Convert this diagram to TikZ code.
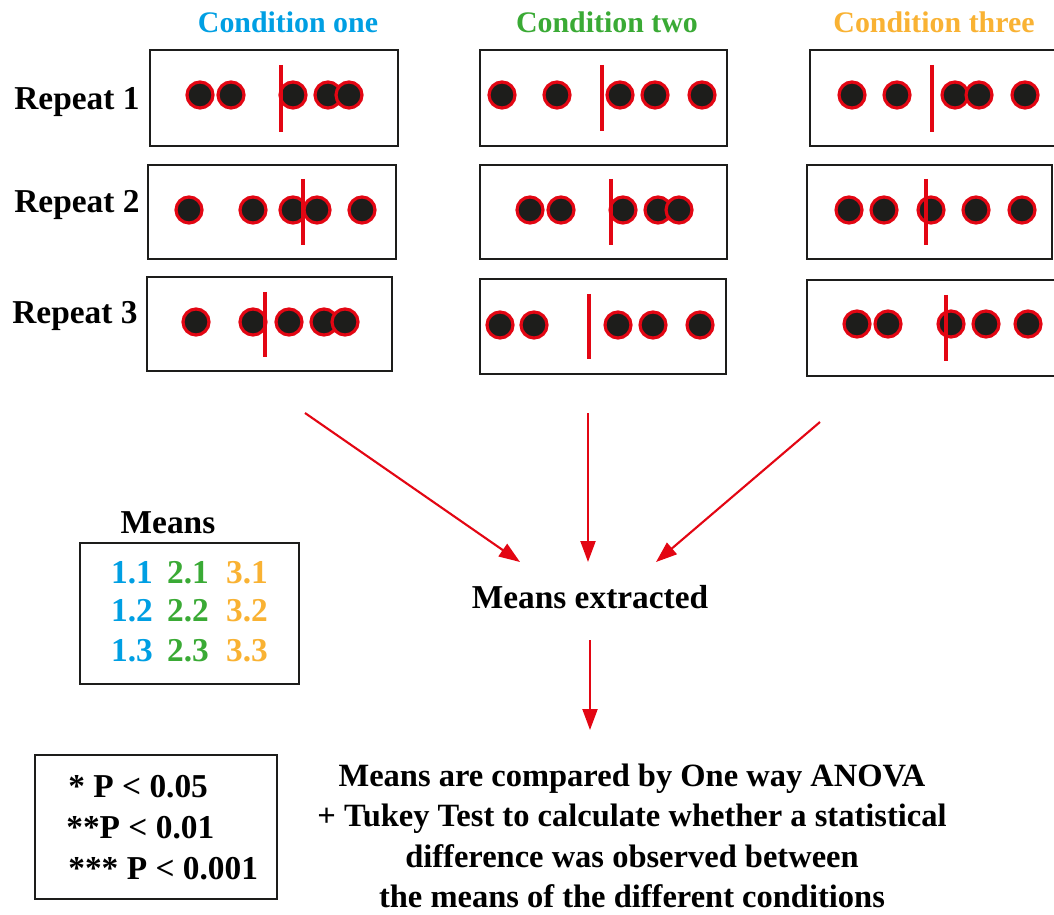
\documentclass[tikz,border=0pt]{standalone}
\usepackage{fontspec}
\setmainfont{Liberation Serif}
\usetikzlibrary{arrows.meta}

\definecolor{condone}{HTML}{009FE3}
\definecolor{condtwo}{HTML}{3AAA35}
\definecolor{condthree}{HTML}{F9B233}
\definecolor{markred}{HTML}{E30613}
\definecolor{inkdark}{HTML}{1D1D1B}

\tikzset{
  frame/.style={draw=inkdark, line width=1.3pt},
  spot/.style={fill=inkdark, draw=markred, line width=1.8pt},
  meanbar/.style={draw=markred, line width=2.8pt},
  flow/.style={draw=markred, line width=1.2pt, -{Triangle[length=4.2mm,width=3mm]}},
  lbl/.style={font=\bfseries\fontsize{19}{22.8}\selectfont, inner sep=0pt},
  head/.style={font=\bfseries\fontsize{17}{20}\selectfont, inner sep=0pt, anchor=base}
}

\begin{document}
\begin{tikzpicture}[x=0.02cm, y=-0.02cm]
  \useasboundingbox[fill=white] (0,0) rectangle (1054,915);

  % column titles
  \node[head, text=condone]   (c1) at (288,33) {Condition one};
  \node[head, text=condtwo]   (c2) at (607,33) {Condition two};
  \node[head, text=condthree] (c3) at (934,33) {Condition three};

  % row titles
  \node[lbl, anchor=base west] (r1) at (14,110) {Repeat 1};
  \node[lbl, anchor=base west] (r2) at (14,213) {Repeat 2};
  \node[lbl, anchor=base west] (r3) at (12,323) {Repeat 3};

  % repeat 1
  \draw[frame] (150,50) rectangle (398,146);
  \foreach \x in {200,231,293,328,349} \draw[spot] (\x,95) circle[radius=0.26cm];
  \draw[meanbar] (281,65) -- (281,132);

  \draw[frame] (480,50) rectangle (727,146);
  \foreach \x in {502,557,620,655,702} \draw[spot] (\x,95) circle[radius=0.26cm];
  \draw[meanbar] (602,65) -- (602,131);

  \draw[frame] (810,50) rectangle (1060,146);
  \foreach \x in {852,897,955,979,1025} \draw[spot] (\x,95) circle[radius=0.26cm];
  \draw[meanbar] (932,65) -- (932,132);

  % repeat 2
  \draw[frame] (148,165) rectangle (396,259);
  \foreach \x in {189,253,293,317,362} \draw[spot] (\x,210) circle[radius=0.26cm];
  \draw[meanbar] (303,179) -- (303,245);

  \draw[frame] (480,165) rectangle (727,259);
  \foreach \x in {530,561,623,658,679} \draw[spot] (\x,210) circle[radius=0.26cm];
  \draw[meanbar] (611,179) -- (611,245);

  \draw[frame] (807,165) rectangle (1052,259);
  \foreach \x in {849,884,931,976,1022} \draw[spot] (\x,210) circle[radius=0.26cm];
  \draw[meanbar] (926,179) -- (926,245);

  % repeat 3
  \draw[frame] (147,277) rectangle (392,371);
  \foreach \x in {196,253,289,324,345} \draw[spot] (\x,322) circle[radius=0.26cm];
  \draw[meanbar] (265,292) -- (265,357);

  \draw[frame] (480,279) rectangle (726,374);
  \foreach \x in {500,534,618,653,700} \draw[spot] (\x,325) circle[radius=0.26cm];
  \draw[meanbar] (589,294) -- (589,359);

  \draw[frame] (807,280) rectangle (1060,376);
  \foreach \x in {857,888,951,986,1028} \draw[spot] (\x,324) circle[radius=0.26cm];
  \draw[meanbar] (946,295) -- (946,361);

  % collecting the means
  \node[lbl, anchor=base] (ext) at (590,608) {Means extracted};
  \coordinate (s1) at (305,413);
  \coordinate (s2) at (588,413);
  \coordinate (s3) at (820,422);
  \coordinate (e1) at (520,562);
  \coordinate (e2) at (588,562);
  \coordinate (e3) at (656,562);
  \draw[flow] (s1) -- (e1);
  \draw[flow] (s2) -- (e2);
  \draw[flow] (s3) -- (e3);

  % table of means
  \node[lbl, anchor=base] (mt) at (168,533) {Means};
  \draw[frame] (80,543) rectangle (299,684);
  \foreach \c/\col/\x in {1/condone/132, 2/condtwo/188, 3/condthree/247}
    \foreach \r/\y in {1/583, 2/621, 3/661}
      \node[lbl, text=\col, anchor=base] (m\c\r) at (\x,\y) {\c.\r};

  % statistics
  \coordinate (s4) at (590,640);
  \coordinate (e4) at (590,730);
  \draw[flow] (s4) -- (e4);
  \node[lbl, font=\bfseries\fontsize{18.5}{22.8}\selectfont, align=center, anchor=north] (anova) at (632,764)
    {Means are compared by One way ANOVA\\
     + Tukey Test to calculate whether a statistical\\
     difference was observed between\\
     the means of the different conditions};

  \draw[frame] (35,755) rectangle (277,899);
  \node[lbl, anchor=base west] (p1) at (68,797) {* P < 0.05};
  \node[lbl, anchor=base west] (p2) at (66,838) {**P < 0.01};
  \node[lbl, anchor=base west] (p3) at (68,879) {*** P < 0.001};
\end{tikzpicture}
\end{document}
